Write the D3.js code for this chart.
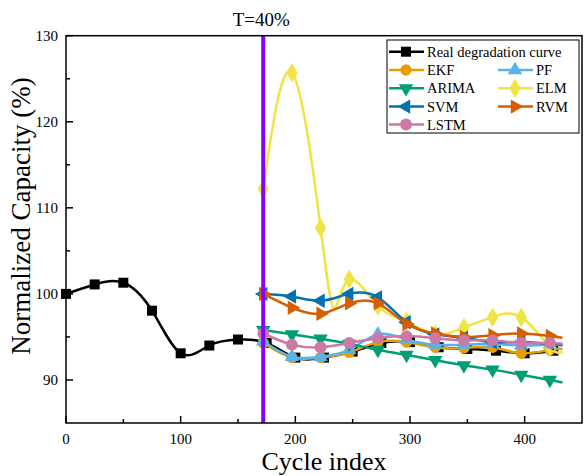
<!DOCTYPE html>
<html><head><meta charset="utf-8">
<script src="https://cdn.jsdelivr.net/npm/d3@7"></script>
<style>body{margin:0;background:#fff} text{font-family:"Liberation Serif","Times New Roman",serif;fill:#000}</style>
</head><body>
<svg id="c" width="585" height="476"></svg>
<script>
// ---- data ----
const realX = [0,25,50,75,100,125,150,175,200,225,250,275,300,325,350,375,400,425];
const realY = [100,101.1,101.3,98.05,93.1,94.0,94.7,94.3,92.6,92.6,93.3,94.3,94.4,93.8,93.6,93.4,93.1,93.4];
const predX = [172,197,222,247,272,297,322,347,372,397,422,433]; // last entry: line end (no marker)
const ekf   = [94.3,92.6,92.6,93.2,94.4,94.4,93.8,93.7,93.8,93.1,93.5,93.6];
const pf    = [94.5,92.7,92.7,93.5,95.3,94.7,94.1,94.1,94.2,94.0,94.1,94.0];
const arima = [95.8,95.3,94.8,94.2,93.5,92.9,92.3,91.7,91.2,90.6,90.0,89.7];
// ELM curve has an extra unmarked dip point at 234
const elmX  = [172,197,222,234,247,272,297,322,347,372,397,422,433];
const elm   = [112.2,125.7,107.7,98.3,101.7,98.6,96.8,95.3,96.1,97.3,97.3,93.8,93.3];
const elmMarked = [0,1,2,4,5,6,7,8,9,10,11];
const svm   = [100.0,99.7,99.2,100.0,99.6,96.7,95.3,94.9,94.4,94.4,94.2,94.1];
const rvm   = [100.0,98.4,97.7,98.9,98.9,96.5,95.4,95.0,95.2,95.4,95.1,94.9];
const lstm  = [95.4,94.1,93.8,94.3,94.85,95.1,94.85,94.6,94.6,94.3,94.3,94.2];
const xTicks = [0,100,200,300,400];
const xMinor = [50,150,250,350];
const yTicks = [90,100,110,120,130];
const yMinor = [95,105,115,125];
const cutX = 172;
const cutLabel = "T=40%";
const seriesNames = ["Real degradation curve","EKF","PF","ARIMA","ELM","SVM","RVM","LSTM"];

// ---- drawing ----
const svg = d3.select("#c");
const x = d3.scaleLinear().domain([0,450]).range([66,582]);
const y = d3.scaleLinear().domain([85,130]).range([423,35.7]);

const first11 = d3.range(11);
const series = [
  {name:seriesNames[0], xs:realX, ys:realY, color:"#000000", sym:"square", mk:d3.range(realX.length)},
  {name:seriesNames[1], xs:predX, ys:ekf,   color:"#E69F00", sym:"circle", mk:first11},
  {name:seriesNames[2], xs:predX, ys:pf,    color:"#56B4E9", sym:"up", mk:first11},
  {name:seriesNames[3], xs:predX, ys:arima, color:"#009E73", sym:"down", mk:first11},
  {name:seriesNames[4], xs:elmX,  ys:elm,   color:"#F0E442", sym:"diamond", mk:elmMarked},
  {name:seriesNames[5], xs:predX, ys:svm,   color:"#0072B2", sym:"left", mk:first11},
  {name:seriesNames[6], xs:predX, ys:rvm,   color:"#D55E00", sym:"right", mk:first11},
  {name:seriesNames[7], xs:predX, ys:lstm,  color:"#CC79A7", sym:"circle2", mk:first11},
];

function symPath(sym){
  if(sym==="square") return {d:d3.symbol(d3.symbolSquare,100)(), rot:0};
  if(sym==="circle") return {d:d3.symbol(d3.symbolCircle,100)(), rot:0};
  if(sym==="circle2") return {d:d3.symbol(d3.symbolCircle,110)(), rot:0};
  if(sym==="diamond") return {d:d3.symbol(d3.symbolDiamond,110)(), rot:0};
  const t = d3.symbol(d3.symbolTriangle,90)();
  const rot = {up:0, down:180, left:-90, right:90}[sym];
  return {d:t, rot:rot};
}

const plot = svg.append("g");
const line = d3.line().x(d=>x(d[0])).y(d=>y(d[1])).curve(d3.curveNatural);

series.forEach(s=>{
  const pts = s.xs.map((v,i)=>[v,s.ys[i]]);
  plot.append("path").attr("d",line(pts)).attr("fill","none")
    .attr("stroke",s.color).attr("stroke-width",2.5);
  const sp = symPath(s.sym);
  plot.selectAll(null).data(s.mk.map(i=>pts[i])).enter().append("path")
    .attr("d",sp.d).attr("fill",s.color)
    .attr("transform",d=>`translate(${x(d[0])},${y(d[1])}) rotate(${sp.rot})`);
});

// vertical cut line
svg.append("line").attr("x1",x(cutX)).attr("x2",x(cutX)).attr("y1",y(130)).attr("y2",y(85))
  .attr("stroke","#8800ff").attr("stroke-width",4);
svg.append("text").attr("x",x(cutX)-2).attr("y",26).attr("text-anchor","middle")
  .attr("font-size",19).text(cutLabel);

// axes frame
const ax = svg.append("g").attr("stroke","#000").attr("stroke-width",1.5);
ax.append("rect").attr("x",x(0)).attr("y",y(130)).attr("width",x(450)-x(0)).attr("height",y(85)-y(130)).attr("fill","none");
xTicks.forEach(t=>ax.append("line").attr("x1",x(t)).attr("x2",x(t)).attr("y1",y(85)).attr("y2",y(85)-7));
xMinor.forEach(t=>ax.append("line").attr("x1",x(t)).attr("x2",x(t)).attr("y1",y(85)).attr("y2",y(85)-4));
yTicks.forEach(t=>ax.append("line").attr("x1",x(0)).attr("x2",x(0)+7).attr("y1",y(t)).attr("y2",y(t)));
yMinor.forEach(t=>ax.append("line").attr("x1",x(0)).attr("x2",x(0)+4).attr("y1",y(t)).attr("y2",y(t)));

xTicks.forEach(t=>svg.append("text").attr("x",x(t)).attr("y",y(85)+21).attr("text-anchor","middle").attr("font-size",15).text(t));
yTicks.forEach(t=>svg.append("text").attr("x",x(0)-8).attr("y",y(t)+5).attr("text-anchor","end").attr("font-size",15).text(t));

svg.append("text").attr("x",(x(0)+x(450))/2).attr("y",470).attr("text-anchor","middle").attr("font-size",26).text("Cycle index");
svg.append("text").attr("transform",`translate(30,${216}) rotate(-90)`).attr("text-anchor","middle").attr("font-size",27).text("Normalized Capacity (%)");

// legend
const lg = svg.append("g");
lg.append("rect").attr("x",387).attr("y",40).attr("width",192).attr("height",93)
  .attr("fill","#fff").attr("stroke","#000").attr("stroke-width",1);
const rowY = [51.7,70,88.3,106.6,124.5];
const pos = [[0,0],[0,1],[1,1],[0,2],[1,2],[0,3],[1,3],[0,4]];
series.forEach((s,i)=>{
  const [c,r] = pos[i];
  const lx = c===0 ? 389 : 498;
  const cy = rowY[r];
  lg.append("line").attr("x1",lx).attr("x2",lx+35).attr("y1",cy).attr("y2",cy).attr("stroke",s.color).attr("stroke-width",2.5);
  const sp = symPath(s.sym);
  lg.append("path").attr("d",sp.d).attr("fill",s.color).attr("transform",`translate(${lx+17},${cy}) rotate(${sp.rot})`);
  lg.append("text").attr("x",lx+38).attr("y",cy+5).attr("font-size",14.5).text(s.name);
});
</script>
</body></html>
